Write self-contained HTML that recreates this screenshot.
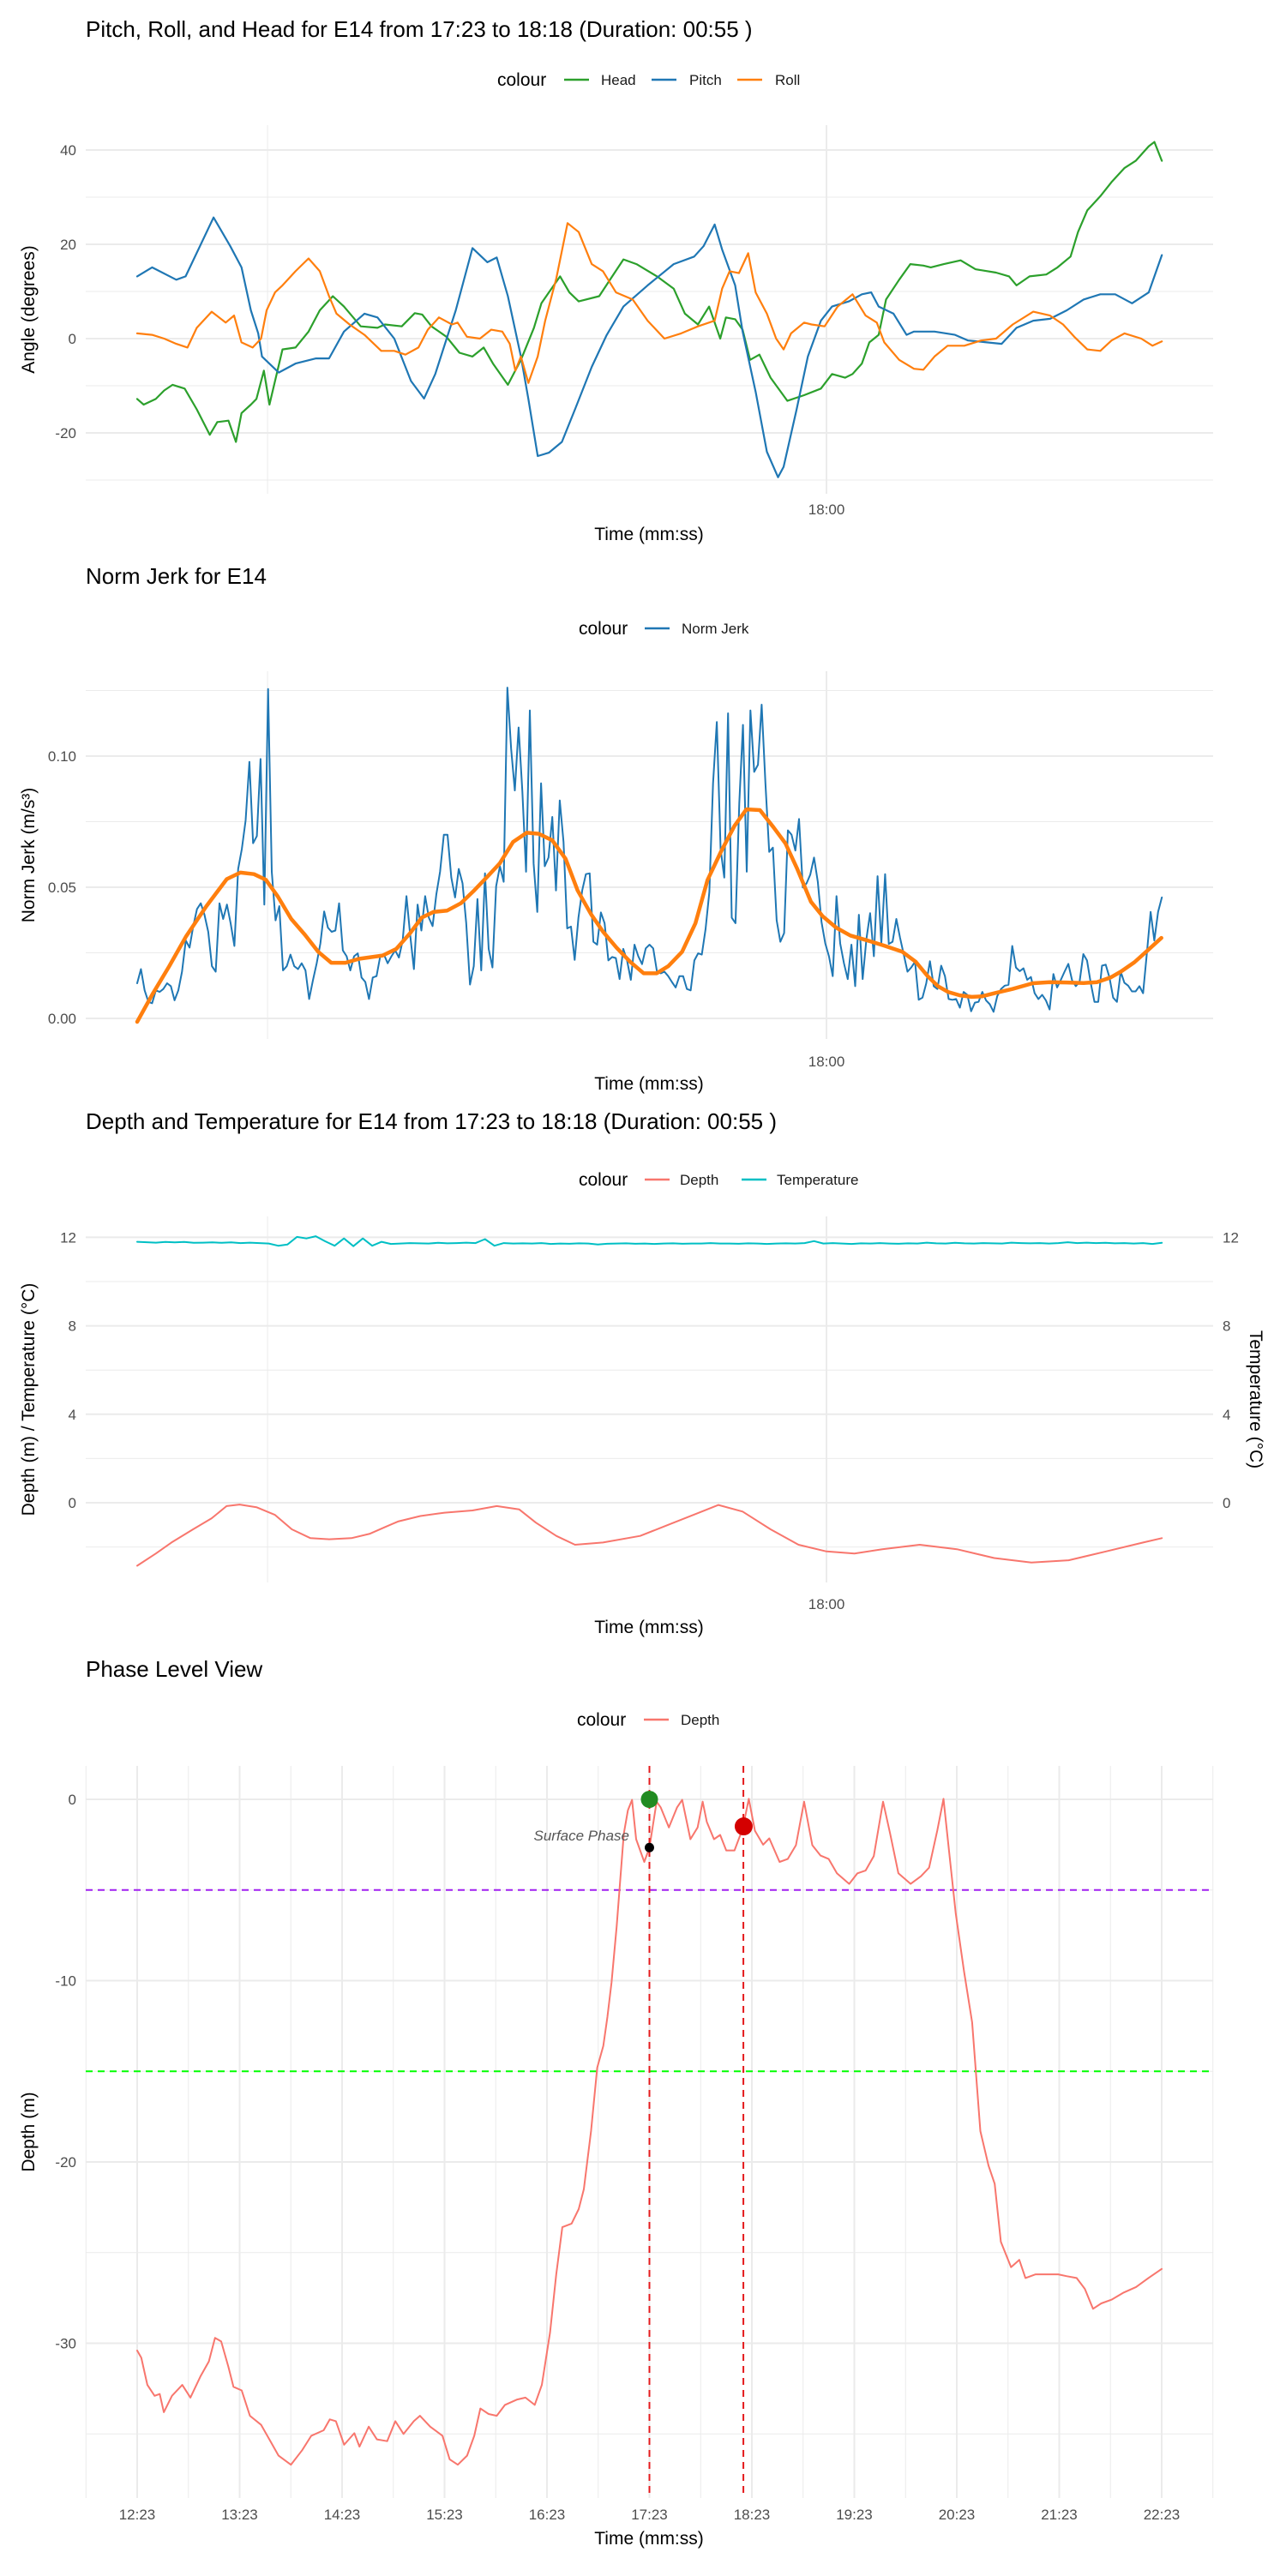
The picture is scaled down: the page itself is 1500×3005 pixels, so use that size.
<!DOCTYPE html>
<html><head><meta charset="utf-8"><style>
html,body{margin:0;padding:0;background:#fff}
svg text{font-family:"Liberation Sans",Arial,sans-serif}
</style></head><body>
<svg id="s" width="1500" height="3000" viewBox="0 0 1500 3000" xmlns="http://www.w3.org/2000/svg">
<rect width="1500" height="3000" fill="#fff"/>
<g id="g1"></g>
<g id="g2"></g>
<g id="g3"></g>
<g id="g4"></g>
</svg>
<script>
// ---------- Chart 1 data (time in seconds from 17:23) ----------
const pitchT=[0,.8,2.1,2.6,4.1,5.0,5.6,6.1,6.5,6.7,7.6,8.5,9.6,10.3,11.1,12.2,12.9,13.8,14.7,15.4,16.0,17.1,18.0,18.8,19.3,19.9,20.6,21.0,21.5,22.1,22.8,23.5,24.4,25.2,26.1,27.4,28.8,29.9,30.4,31.0,31.4,32.1,32.5,33.2,33.8,34.4,34.7,35.4,36.0,36.7,37.3,38.2,38.9,39.4,39.8,40.6,41.3,41.7,42.8,43.9,44.6,45.5,46.4,47.2,48.1,49.0,49.9,50.8,51.7,52.5,53.4,54.3,55];
const pitchV=[13.2,15.1,12.5,13.2,25.7,19.6,15.1,6,1.1,-3.8,-7.2,-5.3,-4.2,-4.2,1.5,5.3,4.5,0,-9,-12.7,-7.5,6,19.2,16.2,17.2,9,-3.8,-12.8,-24.9,-24.2,-21.9,-15,-6,0.75,6.8,11.3,15.8,17.4,19.6,24.2,18.9,11.3,1.5,-11.3,-24,-29.4,-27.2,-15,-3.8,3.8,6.8,7.9,9.4,9.8,6.8,5.3,0.8,1.5,1.5,0.8,-0.4,-0.75,-1.1,2.3,3.8,4.2,6,8.3,9.4,9.4,7.5,9.8,17.7];
const headT=[0,.35,1.0,1.45,1.9,2.55,3.2,3.9,4.3,4.9,5.3,5.6,6.1,6.4,6.8,7.1,7.8,8.5,9.2,9.8,10.5,11.1,12.0,12.9,13.3,14.2,14.9,15.3,15.8,16.6,17.3,18.0,18.6,19.1,19.9,20.6,21.3,21.7,22.1,22.7,23.2,23.7,24.8,25.5,26.1,26.8,27.9,28.8,29.4,30.1,30.7,31.3,31.6,32.1,32.5,32.9,33.4,34.0,34.9,35.8,36.7,37.3,38.0,38.4,38.9,39.3,39.8,40.2,40.9,41.5,42.2,42.6,43.3,44.2,45.0,46.1,46.8,47.2,47.9,48.8,49.4,50.1,50.5,51.0,51.7,52.3,53.0,53.6,54.3,54.6,55];
const headV=[-12.8,-14,-12.8,-11,-9.8,-10.6,-15,-20.4,-17.7,-17.4,-21.9,-15.8,-14,-12.8,-6.8,-14,-2.3,-1.9,1.5,6,9,6.8,2.6,2.3,3,2.6,5.4,5.1,2.6,0.4,-3,-3.8,-1.9,-5.3,-9.8,-4.5,2.3,7.5,9.8,13.2,9.8,7.9,9,13.2,16.8,15.8,13.2,10.6,5.3,3,6.8,0,4.5,4.1,1.9,-4.5,-3.4,-8.3,-13.2,-12,-10.6,-7.5,-8.3,-7.5,-5.3,-0.8,0.8,8.3,12.5,15.8,15.5,15.1,15.8,16.6,14.7,14,13.2,11.3,13.2,13.6,15.1,17.4,22.6,27.2,30.2,33.2,36.2,37.7,40.8,41.7,37.7];
const rollT=[0,.8,1.45,2.1,2.7,3.2,4.0,4.75,5.2,5.6,6.2,6.65,6.95,7.4,7.8,8.5,9.2,9.8,10.3,10.7,11.4,12.2,13.1,13.8,14.4,15.1,15.6,16.2,16.9,17.2,17.7,18.4,19.0,19.6,20.0,20.3,20.6,21.0,21.5,21.9,22.5,23.1,23.7,24.4,25.0,25.7,26.6,27.4,28.3,29.2,30.1,31.0,31.4,31.8,32.3,32.8,33.2,33.8,34.3,34.7,35.1,35.8,36.2,36.9,37.6,38.4,39.1,39.7,40.1,40.9,41.7,42.2,42.8,43.5,44.4,45.3,46.1,47.0,48.1,49.0,49.7,50.3,51.0,51.7,52.3,53.0,53.9,54.5,55];
const rollV=[1.1,0.8,0,-1.1,-1.9,2.3,5.7,3.4,4.9,-0.8,-1.9,0,6,9.8,11.3,14.3,17,14.3,9,5.3,3,0.8,-2.6,-2.6,-3.4,-1.9,1.9,4.5,3,3.4,0.4,0,1.9,1.5,-1.1,-6.8,-3.8,-9.4,-3.8,3.8,12.8,24.5,22.6,15.8,14.3,9.8,8.3,3.8,0,1.1,2.6,3.8,10.6,14.3,13.9,18.1,9.8,5.3,0,-2.3,1.1,3.4,3,2.6,6.8,9.4,4.9,3.4,-0.8,-4.5,-6.4,-6.6,-3.8,-1.5,-1.5,-0.4,0,3,5.7,4.9,3,0.4,-2.3,-2.6,-0.4,1.1,0,-1.5,-0.6];
const angleTicks=[40,20,0,-20];
// ---------- Chart 2 data (5 Hz samples) ----------
const jerkV=[.0134,.0188,.0107,.0063,.0058,.0107,.0101,.0112,.0134,.0123,.0069,.0107,.0178,.0297,.0270,.0352,.0417,.0439,.0395,.0330,.0199,.0178,.0439,.0379,.0434,.0363,.0276,.0570,.0646,.0755,.0978,.0668,.0695,.0989,.0434,.1256,.0559,.0374,.0428,.0183,.0199,.0243,.0199,.0188,.0210,.0183,.0074,.0145,.0210,.0286,.0408,.0346,.0330,.0335,.0439,.0259,.0237,.0183,.0237,.0248,.0156,.0139,.0074,.0156,.0161,.0237,.0243,.0210,.0237,.0259,.0232,.0297,.0466,.0319,.0188,.0434,.0335,.0466,.0384,.0352,.0472,.0559,.0700,.0700,.0537,.0461,.0570,.0515,.0363,.0129,.0199,.0455,.0183,.0553,.0265,.0194,.0504,.0580,.0521,.1261,.1027,.0869,.1109,.0864,.0559,.1174,.0591,.0406,.0896,.0580,.0613,.0768,.0488,.0831,.0673,.0343,.0350,.0223,.0384,.0488,.0550,.0553,.0292,.0281,.0404,.0363,.0221,.0234,.0230,.0150,.0265,.0221,.0147,.0281,.0237,.0207,.0267,.0281,.0267,.0178,
.0172,.0178,.0161,.0139,.0118,.0161,.0161,.0112,.0107,.0221,.0248,.0243,.0341,.0482,.0896,.1130,.0646,.0537,.1163,.0384,.0363,.0820,.1119,.0559,.1174,.0940,.0967,.1196,.0896,.0635,.0651,.0374,.0292,.0325,.0717,.0700,.0640,.0760,.0499,.0515,.0548,.0613,.0521,.0368,.0286,.0237,.0161,.0466,.0286,.0210,.0150,.0281,.0123,.0395,.0150,.0303,.0401,.0237,.0542,.0286,.0550,.0284,.0292,.0379,.0308,.0243,.0178,.0194,.0216,.0071,.0079,.0134,.0218,.0123,.0112,.0201,.0161,.0074,.0071,.0074,.0041,.0101,.0090,.0027,.0060,.0063,.0101,.0069,.0054,.0025,.0085,.0112,.0125,.0128,.0276,.0194,.0180,.0191,.0147,.0158,.0096,.0074,.0090,.0069,.0034,.0169,.0118,.0147,.0178,.0208,.0145,.0123,.0139,.0245,.0221,.0134,.0063,.0063,.0201,.0205,.0156,.0079,.0063,.0178,.0136,.0125,.0103,.0103,.0123,.0096,.0248,.0406,.0297,.0406,.0461];
const smoothT=[0,.81,1.72,2.63,3.72,4.81,5.54,6.27,6.91,7.54,8.27,9.0,9.72,10.42,11.18,11.91,13.18,13.91,14.64,15.27,15.91,16.64,17.37,18.09,18.82,19.46,20.18,20.91,21.55,22.28,23.0,23.64,24.37,25.01,25.73,26.46,27.19,27.88,28.51,29.25,29.97,30.61,31.34,32.06,32.7,33.43,34.16,34.79,35.43,36.16,36.79,37.52,38.28,39.16,40.06,41.07,41.79,42.43,42.98,43.52,44.16,44.79,45.34,46.07,46.98,48.07,48.98,49.89,50.8,51.52,52.25,52.8,53.53,54.25,54.98];
const smoothV=[-.0013,.0091,.0199,.0313,.0428,.0531,.0556,.0550,.0528,.0466,.0379,.0319,.0254,.0212,.0212,.0227,.0240,.0265,.0324,.0384,.0406,.0411,.0439,.0488,.0542,.0591,.0673,.0708,.0704,.0679,.0608,.0488,.0396,.0330,.0270,.0216,.0172,.0172,.0199,.0254,.0363,.0527,.0636,.0734,.0797,.0794,.0728,.0668,.0570,.0445,.0390,.0346,.0316,.0298,.0278,.0254,.0216,.0161,.0123,.0101,.0088,.0082,.0084,.0097,.0112,.0134,.0138,.0137,.0135,.0138,.0156,.0178,.0214,.0260,.0307];
const jerkTicks=[0.10,0.05,0.00];
// ---------- Chart 3 data ----------
const depthT=[0,1,1.84,3,4,4.8,5.5,6.4,7.4,8.3,9.3,10.3,11.5,12.5,13.3,14,15.2,16.5,18,19.3,20.5,21.4,22.5,23.5,25,27,28.5,30,31.2,32.5,34,35.5,37,38.5,40,42,44,46,48,50,52,54,55];
const depthV=[-2.85,-2.3,-1.8,-1.2,-0.7,-0.15,-0.08,-0.2,-0.55,-1.2,-1.6,-1.65,-1.6,-1.4,-1.1,-0.85,-0.6,-0.45,-0.35,-0.15,-0.3,-0.9,-1.5,-1.9,-1.8,-1.5,-1.0,-0.5,-0.1,-0.4,-1.2,-1.9,-2.2,-2.3,-2.1,-1.9,-2.1,-2.5,-2.7,-2.6,-2.2,-1.8,-1.6];
const tempV=[11.8,11.78,11.76,11.79,11.77,11.79,11.75,11.76,11.77,11.75,11.77,11.74,11.76,11.74,
11.72,11.62,11.68,12.02,11.95,12.05,11.82,11.62,11.95,11.6,11.95,11.62,
11.8,11.7,11.72,11.74,11.73,11.72,11.75,11.73,11.74,11.76,11.74,11.92,11.62,11.74,11.72,
11.73,11.72,11.74,11.7,11.72,11.71,11.73,11.72,11.68,11.71,11.72,11.73,11.71,11.72,11.7,11.72,11.73,11.71,11.72,11.72,11.74,11.72,11.72,11.71,11.73,11.72,11.7,11.72,11.73,11.72,11.74,11.83,11.72,11.74,11.72,11.7,11.73,11.72,11.74,11.72,11.71,11.73,11.72,11.76,11.73,11.72,11.75,11.73,11.72,11.74,11.73,11.72,11.76,11.74,11.73,11.74,11.72,11.74,11.78,11.74,11.76,11.74,11.75,11.73,11.74,11.72,11.74,11.7,11.75];
const dtTicks=[12,8,4,0];
// ---------- Chart 4 data (minutes from 12:23) ----------
const phaseT=[0,.04,.1,.17,.22,.26,.34,.44,.52,.62,.7,.76,.82,.89,.94,1.02,1.1,1.21,1.3,1.38,1.5,1.61,1.7,1.82,1.88,1.94,2.02,2.12,2.17,2.26,2.34,2.44,2.52,2.6,2.7,2.76,2.86,2.98,3.05,3.13,3.22,3.29,3.35,3.43,3.51,3.59,3.71,3.79,3.88,3.95,4.03,4.09,4.15,4.24,4.31,4.36,4.43,4.49,4.55,4.59,4.63,4.68,4.75,4.79,4.83,4.87,4.95,5.0,5.07,5.11,5.19,5.27,5.32,5.4,5.47,5.52,5.56,5.63,5.69,5.75,5.83,5.91,5.97,6.03,6.11,6.17,6.27,6.35,6.43,6.51,6.59,6.67,6.75,6.83,6.95,7.03,7.11,7.19,7.28,7.35,7.43,7.55,7.65,7.73,7.81,7.87,7.93,7.99,8.07,8.15,8.23,8.31,8.37,8.43,8.53,8.61,8.67,8.77,8.87,8.99,9.07,9.17,9.25,9.33,9.41,9.51,9.63,9.75,9.87,10.0];
const phaseV=[-30.4,-30.8,-32.3,-32.9,-32.8,-33.8,-32.9,-32.3,-33.0,-31.8,-31.0,-29.7,-29.9,-31.3,-32.4,-32.6,-34.0,-34.5,-35.4,-36.2,-36.7,-35.9,-35.1,-34.8,-34.2,-34.3,-35.6,-34.96,-35.7,-34.6,-35.3,-35.4,-34.3,-35.0,-34.3,-34.0,-34.6,-35.1,-36.4,-36.7,-36.2,-35.1,-33.6,-33.9,-34.0,-33.4,-33.1,-33.0,-33.4,-32.3,-29.4,-26.2,-23.6,-23.4,-22.6,-21.5,-18.3,-14.8,-13.6,-12.0,-10.1,-7.0,-1.9,-0.6,-0.03,-2.2,-3.45,-2.66,-0.13,-0.44,-1.55,-0.44,-0.03,-2.2,-1.55,-0.13,-1.24,-2.2,-1.96,-2.82,-2.82,-1.62,0.03,-1.74,-2.5,-2.15,-3.45,-3.29,-2.53,-0.13,-2.53,-3.1,-3.29,-4.08,-4.66,-4.08,-3.93,-3.13,-0.13,-1.9,-4.08,-4.66,-4.24,-3.77,-1.71,0.03,-3.13,-6.3,-9.47,-12.3,-18.3,-20.2,-21.2,-24.4,-25.8,-25.4,-26.4,-26.2,-26.2,-26.2,-26.3,-26.4,-27.0,-28.1,-27.8,-27.6,-27.2,-26.9,-26.4,-25.9];
const phaseTickLabels=["12:23","13:23","14:23","15:23","16:23","17:23","18:23","19:23","20:23","21:23","22:23"];
const phaseYTicks=[0,-10,-20,-30];
const phaseLinesT=[5,5.917];
const depthThresholds=[-5,-15];
const startPoint=[5,0], endPoint=[5.92,-1.49], surfacePoint=[5,-2.66];

// ---------- helpers ----------
const NS="http://www.w3.org/2000/svg";
function el(parent,tag,attrs,txt){const e=document.createElementNS(NS,tag);for(const k in attrs)e.setAttribute(k,attrs[k]);if(txt!==undefined)e.textContent=txt;parent.appendChild(e);return e;}
const L=100,R=1415;
const xs=t=>160+t*21.73;
function path(xsF,ysF,T,V){let d="";for(let i=0;i<T.length;i++)d+=(i?"L":"M")+xsF(T[i]).toFixed(1)+" "+ysF(V[i]).toFixed(1);return d;}
function hgrid(g,y,major){const l=el(g,"line",{x1:L,x2:R,y1:y,y2:y,stroke:"#EBEBEB","stroke-width":major?2:1});}
function vgrid(g,x,top,bot,major){const l=el(g,"line",{x1:x,x2:x,y1:top,y2:bot,stroke:"#EBEBEB","stroke-width":major?2:1});}
function txt(g,x,y,s,size,anchor,name,extra){const a={x:x,y:y,"font-size":size,"text-anchor":anchor||"start",fill:"#000"};Object.assign(a,extra||{});const t=el(g,"text",a,s);return t;}
function legend(g,y,items,titleX){txt(g,titleX,y+7,"colour",21,"start","legend-title");for(const it of items){const k=el(g,"line",{x1:it.k,x2:it.k+29,y1:y,y2:y,stroke:it.c,"stroke-width":2.5});txt(g,it.t,y+6,it.n,17,"start","legend-label-"+it.n.toLowerCase().replace(/ /g,'-'),{fill:"#1a1a1a"});}}
function series(g,d,c,w,name){const p=el(g,"path",{d:d,fill:"none",stroke:c,"stroke-width":w,"stroke-linejoin":"round","stroke-linecap":"round"});}

// ---------- Chart 1 ----------
(function(){const g=document.getElementById("g1");
const top=146,bot=576,ys=v=>395-v*5.5;
txt(g,100,43,"Pitch, Roll, and Head for E14 from 17:23 to 18:18 (Duration: 00:55 )",26,"start","chart-title");
legend(g,93,[{k:658,t:701,n:"Head",c:"#2ca02c"},{k:760,t:804,n:"Pitch",c:"#1f77b4"},{k:860,t:904,n:"Roll",c:"#ff7f0e"}],580);
[30,10,-10,-30].forEach(v=>hgrid(g,ys(v),false));
angleTicks.forEach(v=>{hgrid(g,ys(v),true);txt(g,89,ys(v)+6,String(v),17,"end","y-tick-label",{fill:"#4D4D4D"});});
vgrid(g,xs(7),top,bot,false);vgrid(g,xs(37),top,bot,true);
series(g,path(xs,ys,headT,headV),"#2ca02c",2.2,"head-line");
series(g,path(xs,ys,pitchT,pitchV),"#1f77b4",2.2,"pitch-line");
series(g,path(xs,ys,rollT,rollV),"#ff7f0e",2.2,"roll-line");
txt(g,xs(37),600,"18:00",17,"middle","x-tick-label",{fill:"#4D4D4D"});
txt(g,757,630,"Time (mm:ss)",21,"middle","x-axis-title");
txt(g,0,0,"Angle (degrees)",21,"middle","y-axis-title",{transform:"translate(40,"+((top+bot)/2)+") rotate(-90)"});
})();

// ---------- Chart 2 ----------
(function(){const g=document.getElementById("g2");
const top=783,bot=1212,ys=v=>1188-v*3060;
txt(g,100,681,"Norm Jerk for E14",26,"start","chart-title");
legend(g,733,[{k:752,t:795,n:"Norm Jerk",c:"#1f77b4"}],675);
[0.125,0.075,0.025].forEach(v=>hgrid(g,ys(v),false));
jerkTicks.forEach(v=>{hgrid(g,ys(v),true);txt(g,89,ys(v)+6,v.toFixed(2),17,"end","y-tick-label",{fill:"#4D4D4D"});});
vgrid(g,xs(7),top,bot,false);vgrid(g,xs(37),top,bot,true);
const jT=jerkV.map((v,i)=>i*55/(jerkV.length-1));
series(g,path(xs,ys,jT,jerkV),"#1f77b4",2,"norm-jerk-line");
series(g,path(xs,ys,smoothT,smoothV),"#ff7f0e",4.5,"smoothed-trend-line");
txt(g,xs(37),1244,"18:00",17,"middle","x-tick-label",{fill:"#4D4D4D"});
txt(g,757,1271,"Time (mm:ss)",21,"middle","x-axis-title");
txt(g,0,0,"Norm Jerk (m/s³)",21,"middle","y-axis-title",{transform:"translate(40,"+((top+bot)/2)+") rotate(-90)"});
})();

// ---------- Chart 3 ----------
(function(){const g=document.getElementById("g3");
const top=1419,bot=1846,ys=v=>1753-v*25.8;
txt(g,100,1317,"Depth and Temperature for E14 from 17:23 to 18:18 (Duration: 00:55 )",26,"start","chart-title");
legend(g,1376,[{k:752,t:793,n:"Depth",c:"#F8766D"},{k:865,t:906,n:"Temperature",c:"#00BFC4"}],675);
[10,6,2,-2].forEach(v=>hgrid(g,ys(v),false));
dtTicks.forEach(v=>{hgrid(g,ys(v),true);txt(g,89,ys(v)+6,String(v),17,"end","y-tick-label",{fill:"#4D4D4D"});txt(g,1426,ys(v)+6,String(v),17,"start","right-y-tick-label",{fill:"#4D4D4D"});});
vgrid(g,xs(7),top,bot,false);vgrid(g,xs(37),top,bot,true);
const tT=tempV.map((v,i)=>i*55/(tempV.length-1));
series(g,path(xs,ys,depthT,depthV),"#F8766D",2,"depth-line");
series(g,path(xs,ys,tT,tempV),"#00BFC4",2,"temperature-line");
txt(g,xs(37),1877,"18:00",17,"middle","x-tick-label",{fill:"#4D4D4D"});
txt(g,757,1905,"Time (mm:ss)",21,"middle","x-axis-title");
txt(g,0,0,"Depth (m) / Temperature (°C)",21,"middle","y-axis-title",{transform:"translate(40,"+((top+bot)/2)+") rotate(-90)"});
txt(g,0,0,"Temperature (°C)",21,"middle","right-y-axis-title",{transform:"translate(1458,"+((top+bot)/2)+") rotate(90)"});
})();

// ---------- Chart 4 ----------
(function(){const g=document.getElementById("g4");
const top=2060,bot=2914,xm=m=>160+m*119.5,ys=v=>2099-v*21.15;
txt(g,100,1956,"Phase Level View",26,"start","chart-title");
legend(g,2006,[{k:751,t:794,n:"Depth",c:"#F8766D"}],673);
[-5,-15,-25,-35].forEach(v=>hgrid(g,ys(v),false));
phaseYTicks.forEach(v=>{hgrid(g,ys(v),true);txt(g,89,ys(v)+6,String(v),17,"end","y-tick-label",{fill:"#4D4D4D"});});
for(let i=0;i<=10;i++){vgrid(g,xm(i-0.5),top,bot,false);}
vgrid(g,xm(10.5),top,bot,false);
phaseTickLabels.forEach((s,i)=>{vgrid(g,xm(i),top,bot,true);txt(g,xm(i),2939,s,17,"middle","x-tick-label",{fill:"#4D4D4D"});});
const cols=["#A020F0","#00FF00"];
depthThresholds.forEach((v,i)=>{const l=el(g,"line",{x1:L,x2:R,y1:ys(v),y2:ys(v),stroke:cols[i],"stroke-width":2,"stroke-dasharray":"8,6"});});
series(g,path(xm,ys,phaseT,phaseV),"#F8766D",2,"depth-line");
phaseLinesT.forEach((m,i)=>{const l=el(g,"line",{x1:xm(m),x2:xm(m),y1:top,y2:bot,stroke:"#E41A1C","stroke-width":2,"stroke-dasharray":"8,6"});});
let c=el(g,"circle",{cx:xm(startPoint[0]),cy:ys(startPoint[1]),r:10,fill:"#228B22"});


c=el(g,"circle",{cx:xm(endPoint[0]),cy:ys(endPoint[1]),r:10.5,fill:"#D40000"});


c=el(g,"circle",{cx:xm(surfacePoint[0]),cy:ys(surfacePoint[1]),r:5.5,fill:"#000"});


txt(g,734,2147,"Surface Phase",17,"end","surface-phase-label",{fill:"#555","font-style":"italic"});
txt(g,757,2968,"Time (mm:ss)",21,"middle","x-axis-title");
txt(g,0,0,"Depth (m)",21,"middle","y-axis-title",{transform:"translate(40,"+((top+bot)/2)+") rotate(-90)"});
})();
</script>
</body></html>
